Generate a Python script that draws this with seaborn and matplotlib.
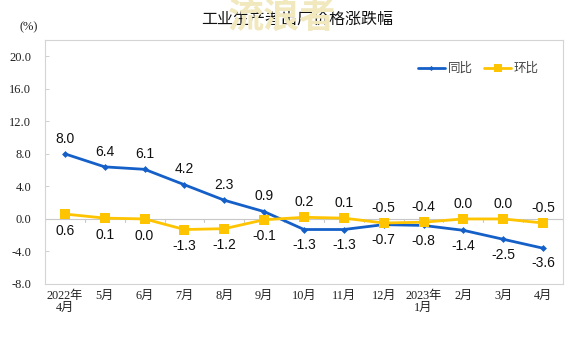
import matplotlib
matplotlib.use("Agg")
import matplotlib.pyplot as plt
import seaborn as sns
import pandas as pd

sns.set_theme(style="white")
plt.rcParams["font.family"] = ["Liberation Sans", "Noto Sans CJK SC"]

months = ["2022年\n4月", "5月", "6月", "7月", "8月", "9月", "10月", "11月",
          "12月", "2023年\n1月", "2月", "3月", "4月"]
yoy = [8.0, 6.4, 6.1, 4.2, 2.3, 0.9, -1.3, -1.3, -0.7, -0.8, -1.4, -2.5, -3.6]
mom = [0.6, 0.1, 0.0, -1.3, -1.2, -0.1, 0.2, 0.1, -0.5, -0.4, 0.0, 0.0, -0.5]
yoy_above = [True] * 6 + [False] * 7
mom_above = [False] * 6 + [True] * 7
y_ticks = [-8.0, -4.0, 0.0, 4.0, 8.0, 12.0, 16.0, 20.0]

blue = "#1560C8"
gold = "#FFC400"

df = pd.DataFrame({"idx": range(len(months)), "同比": yoy, "环比": mom})

fig = plt.figure(figsize=(5.76, 3.41), dpi=100)
ax = fig.add_axes([45 / 576, 1 - 284 / 341, (563 - 45) / 576, (284 - 40) / 341])

sns.lineplot(data=df, x="idx", y="同比", ax=ax, color=blue, lw=2,
             marker="D", markersize=3.5, markeredgewidth=0, label="同比")
sns.lineplot(data=df, x="idx", y="环比", ax=ax, color=gold, lw=2,
             marker="s", markersize=7, markeredgewidth=0, label="环比")

ax.axhline(0, color="#c8c8c8", lw=0.8, zorder=0)
for b in range(len(months) + 1):
    ax.plot([b - 0.5, b - 0.5], [0, -0.4], color="#c8c8c8", lw=0.8, zorder=0)

ax.set_xlim(-0.5, len(months) - 0.5)
ax.set_ylim(-8, 22)
ax.set_xticks(range(len(months)))
ax.set_xticklabels(months)
ax.set_yticks(y_ticks)
ax.set_yticklabels([f"{v:.1f}" for v in y_ticks])
ax.set_xlabel("")
ax.set_ylabel("")

tick_font = ["Liberation Serif", "Noto Sans CJK SC"]
for lab in ax.get_yticklabels():
    lab.set_family(tick_font)
    lab.set_fontsize(9)
    lab.set_color("#222222")
for lab in ax.get_xticklabels():
    lab.set_family(tick_font)
    lab.set_fontsize(8.8)
    lab.set_color("#222222")
    lab.set_linespacing(1.0)

ax.tick_params(axis="y", length=3, width=0.6, color="#c8c8c8", direction="in", pad=10, left=True)
ax.tick_params(axis="x", length=0, pad=4)
for s in ax.spines.values():
    s.set_color("#d4d4d4")
    s.set_linewidth(0.8)

for i, v in enumerate(yoy):
    off = 11 if yoy_above[i] else -11
    ax.annotate(f"{v:.1f}", (i, v), xytext=(0, off), textcoords="offset points",
                ha="center", va="center", fontsize=10, color="#111111")
for i, v in enumerate(mom):
    off = 11 if mom_above[i] else -12
    ax.annotate(f"{v:.1f}", (i, v), xytext=(0, off), textcoords="offset points",
                ha="center", va="center", fontsize=10, color="#111111")

leg = ax.legend(loc="upper right", bbox_to_anchor=(0.975, 0.955), ncol=2, frameon=False,
                fontsize=9, handlelength=2.2, columnspacing=0.9, handletextpad=0.2,
                markerscale=0.75)
for t in leg.get_texts():
    t.set_family(["Noto Sans CJK SC"])
    t.set_color("#444444")

fig.text(20 / 576, 1 - 27 / 341, "(%)", family="Liberation Serif", fontsize=9,
         color="#222222", ha="left", va="center")
fig.text(297 / 576, 1 - 20 / 341, "工业生产者出厂价格涨跌幅", family=["Noto Sans CJK SC"],
         fontsize=11.5, color="#111111", ha="center", va="center", zorder=1)
fig.text(282 / 576, 1 - 17 / 341, "流浪者", family=["Noto Sans CJK SC"], fontweight="bold",
         fontsize=26, color="#F1E8BE", ha="center", va="center", zorder=5)

fig.savefig("out.png", dpi=100)
